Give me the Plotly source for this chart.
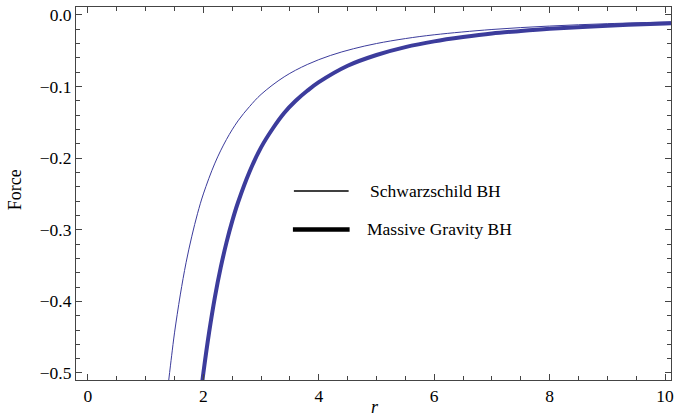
import plotly.graph_objects as go

# Schwarzschild BH (thin curve)
r_schw = [1.40, 1.45, 1.5, 1.6, 1.7, 1.8, 1.9, 2.0, 2.2, 2.4, 2.6, 2.8, 3.0, 3.4, 3.8, 4.2, 4.6, 5.0, 5.5, 6.0, 7.0, 8.0, 9.0, 10.0, 10.2]
f_schw = [-0.510, -0.476, -0.444, -0.391, -0.346, -0.309, -0.277, -0.250, -0.207, -0.174, -0.148, -0.128, -0.111,
          -0.0865, -0.0693, -0.0567, -0.0473, -0.0400, -0.0331, -0.0278, -0.0204, -0.0156, -0.0123, -0.0100, -0.0096]

# Massive Gravity BH (thick curve)
r_mg = [1.98, 2.0, 2.1, 2.2, 2.3, 2.4, 2.5, 2.6, 2.8, 3.0, 3.2, 3.4, 3.6, 3.8, 4.0, 4.5, 5.0, 5.5, 6.0, 6.5, 7.0, 7.5, 8.0, 9.0, 10.0, 10.2]
f_mg = [-0.513, -0.500, -0.443, -0.394, -0.353, -0.318, -0.288, -0.262, -0.219, -0.185, -0.159, -0.137, -0.120,
        -0.106, -0.094, -0.071, -0.056, -0.045, -0.037, -0.031, -0.026, -0.0225, -0.0195, -0.0151, -0.0120, -0.0115]

legend_labels = ["Schwarzschild BH", "Massive Gravity BH"]
x_title = "r"
y_title = "Force"

curve_color = "#3c3c9c"
serif = "Liberation Serif, Times New Roman, serif"

fig = go.Figure()
fig.add_trace(go.Scatter(x=r_schw, y=f_schw, mode="lines", line=dict(color=curve_color, width=1, shape="spline", smoothing=1),
                         showlegend=False, hoverinfo="skip"))
fig.add_trace(go.Scatter(x=r_mg, y=f_mg, mode="lines", line=dict(color=curve_color, width=4, shape="spline", smoothing=1),
                         showlegend=False, hoverinfo="skip"))

W, H = 674, 419
L, T, R, B = 76, 7, 674, 380

def px(p):
    return (p - L) / (R - L)

def py(q):
    return (B - q) / (B - T)

# legend drawn as lines + text
fig.add_shape(type="line", xref="paper", yref="paper", x0=px(295), x1=px(350), y0=py(191), y1=py(191),
              line=dict(color="black", width=1.3))
fig.add_shape(type="line", xref="paper", yref="paper", x0=px(294), x1=px(351), y0=py(229.5), y1=py(229.5),
              line=dict(color="black", width=4.5))
fig.add_annotation(xref="paper", yref="paper", x=px(369), y=py(191), text=legend_labels[0], showarrow=False,
                   xanchor="left", yanchor="middle", font=dict(family=serif, size=17.5, color="black"))
fig.add_annotation(xref="paper", yref="paper", x=px(366), y=py(229), text=legend_labels[1], showarrow=False,
                   xanchor="left", yanchor="middle", font=dict(family=serif, size=17.5, color="black"))

# axis titles
fig.add_annotation(xref="paper", yref="paper", x=px(15), y=py(190), text=y_title, showarrow=False, textangle=-90,
                   xanchor="center", yanchor="middle", font=dict(family=serif, size=18, color="black"))
fig.add_annotation(xref="paper", yref="paper", x=px(377), y=0, yshift=-(H - B), text="<i>" + x_title + "</i>",
                   showarrow=False, xanchor="center", yanchor="bottom",
                   font=dict(family=serif, size=18, color="black"))

axis_common = dict(
    showgrid=False, zeroline=False, showline=True, linecolor="#444", linewidth=1,
    mirror="ticks", ticks="inside", ticklen=6, tickcolor="#444", tickwidth=1,
    tickfont=dict(family=serif, size=17.5, color="black"), ticklabeloverflow="allow",
)

fig.update_xaxes(range=[-0.207, 10.103], tick0=0, dtick=2, tickformat="d",
                 minor=dict(dtick=0.5, ticks="inside", ticklen=4, tickcolor="#444"), **axis_common)
fig.update_yaxes(range=[-0.5098, 0.011], tick0=0, dtick=0.1, tickformat=".1f",
                 minor=dict(dtick=0.02, ticks="inside", ticklen=4, tickcolor="#444"), **axis_common)

fig.update_layout(width=W, height=H, margin=dict(l=L, r=W - R, t=T, b=H - B),
                  plot_bgcolor="white", paper_bgcolor="white", showlegend=False)

fig.write_html("out.html")
